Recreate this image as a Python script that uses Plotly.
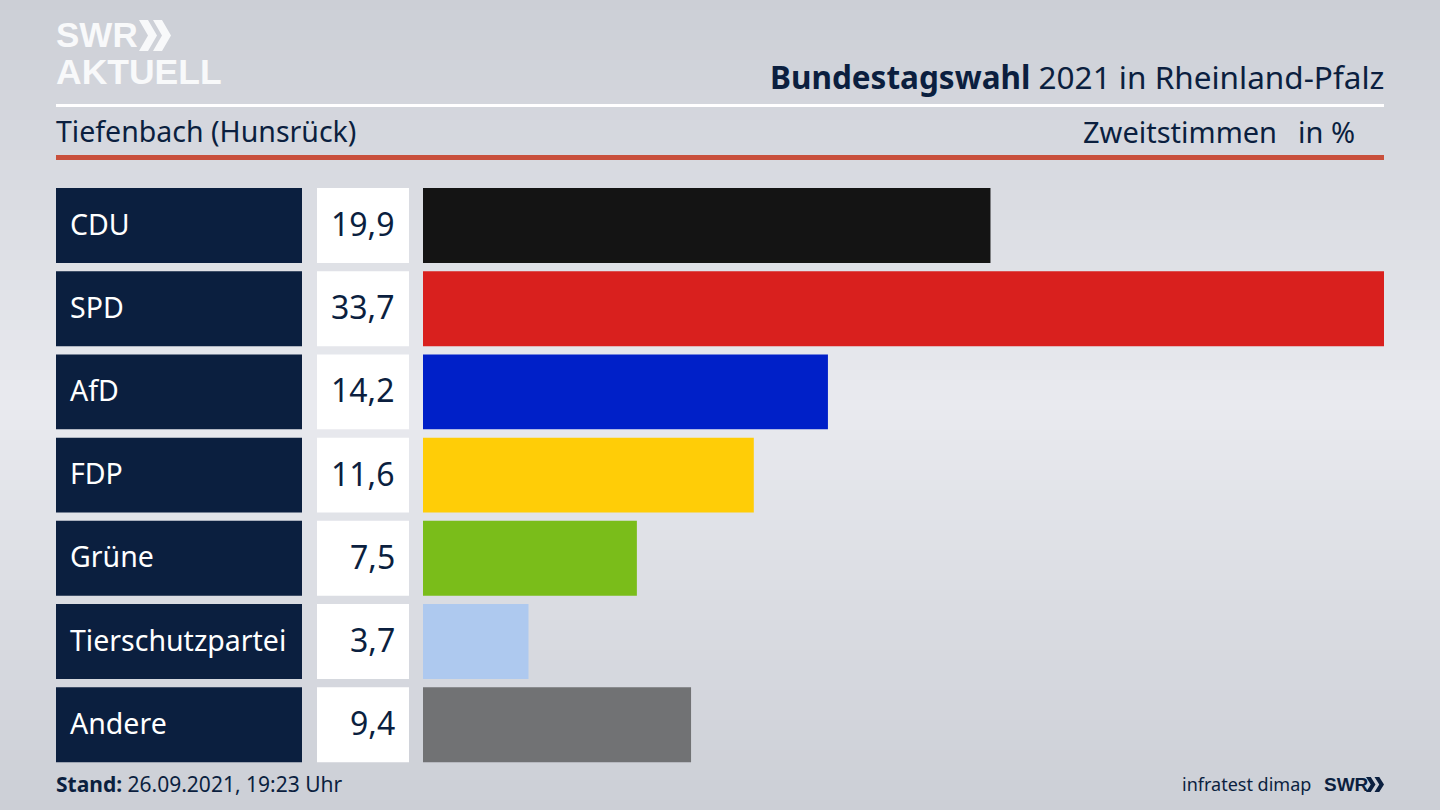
import plotly.graph_objects as go

W, H = 1440, 810

parties = ["CDU", "SPD", "AfD", "FDP", "Grüne", "Tierschutzpartei", "Andere"]
values = [19.9, 33.7, 14.2, 11.6, 7.5, 3.7, 9.4]
value_labels = ["19,9", "33,7", "14,2", "11,6", "7,5", "3,7", "9,4"]
bar_colors = ["#141414", "#d9201e", "#0020c8", "#ffcd07", "#7abd1a", "#aec9ef", "#717274"]

NAVY = "#0b1f3f"
LOGO = "#f8f9fa"
FONT = "Noto Sans"

# Hintergrund: von grau (oben/unten) zu hell (Mitte)
bg_top = (204, 207, 214)
bg_mid = (233, 234, 239)


def px(x):
    return x / W


def py(y):
    return 1 - y / H


def chevron(x, y, w, h, color):
    pts = [(x, y), (x + w * 0.5, y), (x + w, y + h / 2), (x + w * 0.5, y + h), (x, y + h), (x + w * 0.5, y + h / 2)]
    d = "M" + " L".join(f"{px(a):.5f},{py(b):.5f}" for a, b in pts) + " Z"
    return dict(type="path", xref="paper", yref="paper", path=d, fillcolor=color, line=dict(width=0), layer="above")


shapes = []
steps = 81
for i in range(steps):
    t = abs(i / (steps - 1) - 0.5) * 2
    c = [round(m + (a - m) * t) for a, m in zip(bg_top, bg_mid)]
    shapes.append(dict(type="rect", xref="paper", yref="paper", x0=0, x1=1,
                       y0=1 - (i + 1) / steps, y1=1 - i / steps,
                       fillcolor=f"rgb({c[0]},{c[1]},{c[2]})", line=dict(width=0), layer="below"))

# Linien im Kopf
shapes.append(dict(type="rect", xref="paper", yref="paper", x0=px(56), x1=px(1384), y0=py(107), y1=py(104),
                   fillcolor="#ffffff", line=dict(width=0), layer="below"))
shapes.append(dict(type="rect", xref="paper", yref="paper", x0=px(56), x1=px(1384), y0=py(160), y1=py(155),
                   fillcolor="#c9503c", line=dict(width=0), layer="below"))

# Logo-Pfeile
shapes.append(chevron(139, 20, 18, 31, LOGO))
shapes.append(chevron(153, 20, 18, 31, LOGO))
shapes.append(chevron(1366, 777, 9.5, 15, NAVY))
shapes.append(chevron(1374.5, 777, 9.5, 15, NAVY))

fig = go.Figure()

fig.add_trace(go.Bar(y=parties, x=[1] * len(parties), orientation="h", marker=dict(color=NAVY, line=dict(width=0)),
                     xaxis="x2", yaxis="y", hoverinfo="skip"))
fig.add_trace(go.Bar(y=parties, x=[1] * len(parties), orientation="h", marker=dict(color="#ffffff", line=dict(width=0)),
                     xaxis="x3", yaxis="y", hoverinfo="skip"))
fig.add_trace(go.Bar(y=parties, x=values, orientation="h", marker=dict(color=bar_colors, line=dict(width=0)),
                     xaxis="x", yaxis="y"))

annotations = []


def label(x, y, text, size, color=NAVY, anchor="left", family=FONT):
    annotations.append(dict(xref="paper", yref="paper", x=px(x), y=py(y), text=text, showarrow=False,
                            xanchor=anchor, yanchor="middle", font=dict(family=family, size=size, color=color)))


for party, lab in zip(parties, value_labels):
    annotations.append(dict(xref="paper", yref="y", x=px(68), y=party, text=party, showarrow=False,
                            xanchor="left", yanchor="middle", yshift=2,
                            font=dict(family=FONT, size=28.5, color="#ffffff")))
    annotations.append(dict(xref="paper", yref="y", x=px(397), y=party, text=lab, showarrow=False,
                            xanchor="right", yanchor="middle", yshift=2,
                            font=dict(family=FONT, size=32, color=NAVY)))

label(1386, 76, "<b>Bundestagswahl</b> 2021 in Rheinland-Pfalz", 31.5, anchor="right")
label(54, 131, "Tiefenbach (Hunsrück)", 28.5)
label(1279, 131, "Zweitstimmen", 29, anchor="right")
label(1357, 131, "in %", 29, anchor="right")
label(54, 784, "<b>Stand:</b> 26.09.2021, 19:23 Uhr", 21)
label(1313, 784, "infratest dimap", 18, anchor="right")
label(1322, 784, "<b>SWR</b>", 19, anchor="left", family="Liberation Sans")
label(54, 35, "<b>SWR</b>", 35, color=LOGO, family="Liberation Sans")
label(54, 72, "<b>AKTUELL</b>", 35.5, color=LOGO, family="Liberation Sans")

fig.update_layout(
    width=W,
    height=H,
    margin=dict(l=0, r=0, t=0, b=0),
    paper_bgcolor="#dcdee3",
    plot_bgcolor="rgba(0,0,0,0)",
    showlegend=False,
    barmode="overlay",
    bargap=0.1,
    shapes=shapes,
    annotations=annotations,
    xaxis=dict(domain=[px(423), px(1384)], range=[0, 33.7], visible=False, fixedrange=True),
    xaxis2=dict(domain=[px(56), px(302)], range=[0, 1], visible=False, anchor="y", fixedrange=True),
    xaxis3=dict(domain=[px(317), px(409)], range=[0, 1], visible=False, anchor="y", fixedrange=True),
    yaxis=dict(domain=[py(766.3), py(183.9)], categoryorder="array", categoryarray=parties,
               autorange="reversed", visible=False, fixedrange=True),
)

fig.write_html("out.html", config={"displayModeBar": False},
               post_script="document.body.style.margin='0';document.body.style.overflow='hidden';")
